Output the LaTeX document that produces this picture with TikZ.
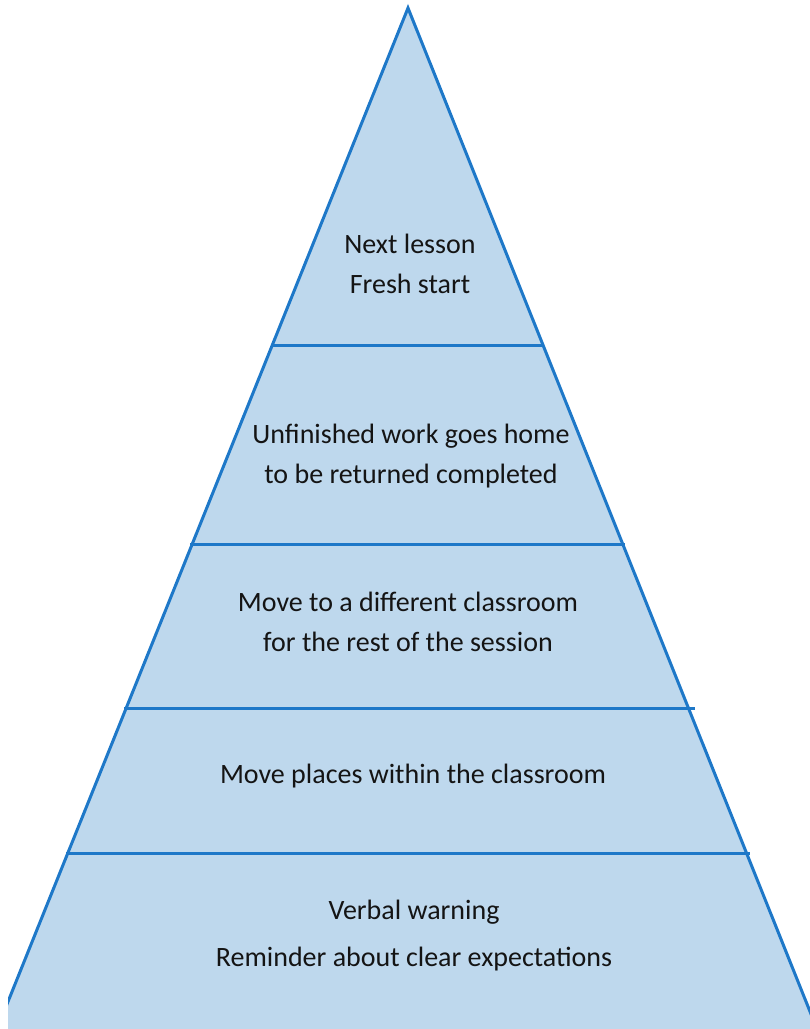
\documentclass[tikz,border=0pt]{standalone}
\usepackage{fontspec}
\setmainfont{Carlito}
\usepackage{tikz}
\usepackage{xcolor}
\definecolor{pyrline}{RGB}{30,120,200}
\definecolor{pyrfill}{RGB}{190,216,237}
\definecolor{pyrtext}{RGB}{20,20,20}

\begin{document}
\begin{tikzpicture}[x=1pt,y=-1pt,
    tier/.style={draw=pyrline,line width=3pt},
    lbl/.style={align=center,text=pyrtext,font=\fontsize{28}{40}\selectfont}]
            \useasboundingbox (0,0) rectangle (810,1029);
            \clip (8,0) rectangle (810,1029);
            % body of the pyramid
            \filldraw[tier,fill=pyrfill,line join=miter] (-3,1029) -- (408,8) -- (817,1029);
            % dividers between the tiers
            \draw[tier] (271,345) -- (544,345);
            \draw[tier] (190,544) -- (625,544);
            \draw[tier] (124,708) -- (695,708);
            \draw[tier] (66,853) -- (750,853);
            % labels
            \node[lbl] (lesson) at (410,264) {Next lesson\\Fresh start};
            \node[lbl] (home) at (411,456) {Unfinished work goes home\\to be returned completed};
            \node[lbl] (room) at (408,622) {Move to a different classroom\\for the rest of the session};
            \node[lbl] (places) at (413,776) {Move places within the classroom};
            \node[lbl,font=\fontsize{28}{47}\selectfont] (warning) at (414,936) {Verbal warning\\Reminder about clear expectations};
        \end{tikzpicture}
\end{document}
